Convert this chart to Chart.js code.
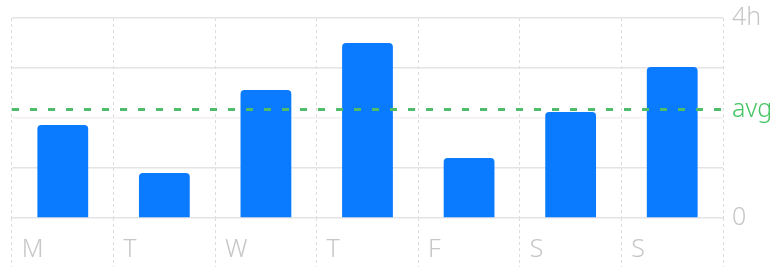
<!DOCTYPE html>
<html>
<head>
<meta charset="utf-8">
<script src="https://cdn.jsdelivr.net/npm/chart.js@4/dist/chart.umd.min.js"></script>
<style>
  html, body { margin: 0; padding: 0; background: #fff; }
  #wrap { width: 782px; height: 267px; }
</style>
</head>
<body>
<div id="wrap"><canvas id="weekChart"></canvas></div>
<script>
/* ---- data ---- */
const days = ["M", "T", "W", "T", "F", "S", "S"];
const hours = [1.86, 0.9, 2.56, 3.5, 1.2, 2.12, 3.02];
const avgHours = 2.17;
const gridHours = [0, 1, 2, 3, 4];

const blue = "#0a7aff";
const green = "#4fbc6c";
const labelGray = "#c6c6c8";

/* ---- dotted average line across the plot ---- */
const avgLine = {
  id: "avgLine",
  afterDatasetsDraw(chart) {
    const { ctx, chartArea } = chart;
    const y = chart.scales.y.getPixelForValue(avgHours);
    ctx.save();
    ctx.strokeStyle = green;
    ctx.lineWidth = 3;
    ctx.setLineDash([7, 11]);
    ctx.beginPath();
    ctx.moveTo(chartArea.left, y);
    ctx.lineTo(chartArea.right, y);
    ctx.stroke();
    ctx.restore();
  },
};

// horizontal grid: the 2h line is barely visible, the avg tick gets no line
const gridColor = (ctx) => {
  if (!ctx.tick) return "#e4e4e6";
  if (ctx.tick.value === avgHours) return "rgba(0,0,0,0)";
  if (ctx.tick.value === 2) return "#f5eff1";
  return "#e4e4e6";
};

new Chart(document.getElementById("weekChart"), {
  type: "bar",
  plugins: [avgLine],
  data: {
    labels: days,
    datasets: [
      {
        data: hours,
        backgroundColor: blue,
        borderRadius: { topLeft: 4, topRight: 4 },
        borderSkipped: "start",
        barPercentage: 0.5,
        categoryPercentage: 1,
      },
    ],
  },
  options: {
    responsive: true,
    maintainAspectRatio: false,
    animation: false,
    layout: { padding: { left: 12, top: 18, right: 0, bottom: 0 } },
    plugins: { legend: { display: false }, tooltip: { enabled: false } },
    scales: {
      x: {
        grid: {
          offset: true,
          color: "#dcdcdc",
          lineWidth: 1,
          drawTicks: true,
          tickLength: 49,
          tickColor: "#dcdcdc",
          tickBorderDash: [3, 3],
        },
        border: { display: false, dash: [3, 3] },
        ticks: {
          align: "start",
          labelOffset: -41,
          padding: -32,
          color: labelGray,
          font: { family: "Noto Sans", size: 25, weight: 300 },
          maxRotation: 0,
          autoSkip: false,
        },
        afterFit(scale) { scale.height = 49; },
      },
      y: {
        position: "right",
        min: 0,
        max: 4,
        afterBuildTicks(scale) {
          scale.ticks = [...gridHours, avgHours]
            .sort((a, b) => a - b)
            .map((v) => ({ value: v }));
        },
        grid: {
          drawTicks: false,
          lineWidth: 1.5,
          color: gridColor,
        },
        border: { display: false },
        ticks: {
          autoSkip: false,
          padding: 9,
          color: (ctx) => (ctx.tick && ctx.tick.value === avgHours ? "#45c463" : labelGray),
          font: { family: "Noto Sans", size: 25, weight: 300, lineHeight: 1 },
          callback: (v) => (v === 4 ? "4h" : v === 0 ? "0" : v === avgHours ? "avg" : ""),
        },
        afterFit(scale) {
          scale.width = 59;
          scale.paddingTop = 0;
          scale.paddingBottom = 0;
        },
      },
    },
  },
});
</script>
</body>
</html>
